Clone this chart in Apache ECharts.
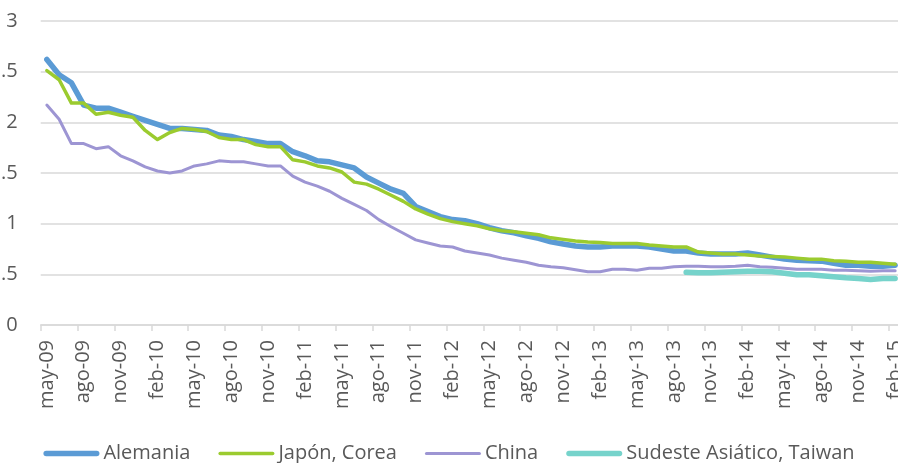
<!DOCTYPE html>
<html>
<head>
<meta charset="utf-8">
<script src="https://cdn.jsdelivr.net/npm/echarts@6/dist/echarts.min.js"></script>
<style>
  html, body { margin: 0; padding: 0; background: #fff; }
  #chart { width: 898px; height: 463px; }
</style>
</head>
<body>
<div id="chart"></div>
<script>
// month labels, may-09 .. feb-15
const monthNames = ["ene","feb","mar","abr","may","jun","jul","ago","sep","oct","nov","dic"];
const months = [];
for (let k = 4; k < 4 + 70; k++) {
  const y = 9 + Math.floor(k / 12);
  months.push(monthNames[k % 12] + "-" + String(y).padStart(2, "0"));
}

const alemania = [2.62,2.47,2.39,2.17,2.14,2.14,2.10,2.06,2.02,1.98,1.94,1.94,1.93,
  1.92,1.875,1.86,1.83,1.81,1.79,1.79,1.71,1.67,1.62,1.61,1.58,1.55,1.46,
  1.40,1.34,1.30,1.17,1.12,1.07,1.04,1.03,1.00,0.96,0.93,0.91,0.88,
  0.855,0.82,0.80,0.78,0.77,0.77,0.78,0.78,0.78,0.77,0.75,0.73,0.73,
  0.71,0.70,0.70,0.70,0.71,0.69,0.67,0.65,0.64,0.635,0.63,0.61,0.59,0.59,0.58,0.58,0.59];

const japon = [2.51,2.42,2.19,2.19,2.08,2.10,2.07,2.05,1.92,1.83,1.90,1.94,1.93,
  1.91,1.85,1.83,1.83,1.78,1.76,1.76,1.63,1.61,1.57,1.55,1.51,1.41,1.39,
  1.34,1.28,1.22,1.145,1.095,1.05,1.02,1.00,0.98,0.95,0.93,0.92,0.905,
  0.89,0.86,0.845,0.83,0.82,0.815,0.805,0.805,0.805,0.79,0.78,0.77,0.77,
  0.72,0.71,0.70,0.70,0.69,0.68,0.675,0.67,0.66,0.65,0.65,0.635,0.63,0.62,0.62,0.61,0.60];

const china = [2.17,2.03,1.79,1.79,1.74,1.76,1.67,1.62,1.56,1.52,1.50,1.52,1.57,
  1.59,1.62,1.61,1.61,1.59,1.57,1.57,1.47,1.41,1.37,1.32,1.25,1.19,1.13,
  1.04,0.97,0.905,0.84,0.81,0.78,0.77,0.73,0.71,0.69,0.66,0.64,0.62,
  0.59,0.575,0.565,0.545,0.525,0.525,0.55,0.55,0.54,0.56,0.56,0.575,0.58,
  0.58,0.575,0.575,0.58,0.59,0.575,0.57,0.56,0.55,0.55,0.55,0.54,0.54,0.535,0.53,0.535,0.535];

// starts sep-13
const sudesteStart = 52;
const sudesteValues = [0.52,0.515,0.515,0.52,0.525,0.53,0.53,0.525,0.51,0.495,0.495,0.485,0.477,0.467,0.46,0.45,0.46,0.46];
const sudeste = months.map((m, i) => i < sudesteStart ? null : sudesteValues[i - sudesteStart]);

const yTicks = [0, 3, 0.5]; // min, max, step

const font = "'Open Sans', sans-serif";
const grey = "#595959";

// rounded bar used as legend key, w x h
function stadium(w, h) {
  const r = h / 2;
  return "path://M" + r + ",0 L" + (w - r) + ",0 A" + r + "," + r + " 0 0 1 " + (w - r) + "," + h +
    " L" + r + "," + h + " A" + r + "," + r + " 0 0 1 " + r + ",0 Z";
}

function lineSeries(name, data, color, width) {
  return {
    name: name,
    type: "line",
    data: data,
    symbol: "none",
    smooth: false,
    lineStyle: { color: color, width: width, cap: "round", join: "round" },
    itemStyle: { color: color }
  };
}

const chart = echarts.init(document.getElementById("chart"));
chart.setOption({
  animation: false,
  backgroundColor: "#fff",
  grid: { left: 40.7, top: 21, width: 860.6, height: 304, containLabel: false, outerBoundsMode: "none" },
  xAxis: {
    type: "category",
    data: months,
    boundaryGap: true,
    axisLine: { lineStyle: { color: "#D9D9D9", width: 1.5 } },
    axisTick: { show: true, interval: 2, length: 6, lineStyle: { color: "#D9D9D9", width: 1.5 } },
    axisLabel: {
      interval: 2, rotate: 90, margin: 15,
      color: grey, fontSize: 20, fontFamily: font
    },
    splitLine: { show: false }
  },
  yAxis: {
    type: "value",
    min: yTicks[0], max: yTicks[1], interval: yTicks[2],
    axisLine: { show: false },
    axisTick: { show: false },
    axisLabel: { color: grey, fontSize: 20, fontFamily: font, margin: 23 },
    splitLine: { lineStyle: { color: "#D9D9D9", width: 1.5 } }
  },
  legend: {
    left: "center",
    top: 438.5,
    itemWidth: 56,
    itemHeight: 24,
    itemGap: 28,
    textStyle: { color: grey, fontSize: 20, fontFamily: font, padding: [0, 0, 0, -1] },
    data: [
      { name: "Alemania", icon: stadium(56, 5.5) },
      { name: "Japón, Corea", icon: stadium(56, 3.5) },
      { name: "China", icon: stadium(56, 3) },
      { name: "Sudeste Asiático, Taiwan", icon: stadium(56, 5.5) }
    ]
  },
  series: [
    lineSeries("Alemania", alemania, "#5B9BD5", 5.5),
    lineSeries("Japón, Corea", japon, "#9BCB2F", 3.5),
    lineSeries("China", china, "#9D95D3", 3),
    lineSeries("Sudeste Asiático, Taiwan", sudeste, "#76D3CB", 5.5)
  ]
});
</script>
</body>
</html>
